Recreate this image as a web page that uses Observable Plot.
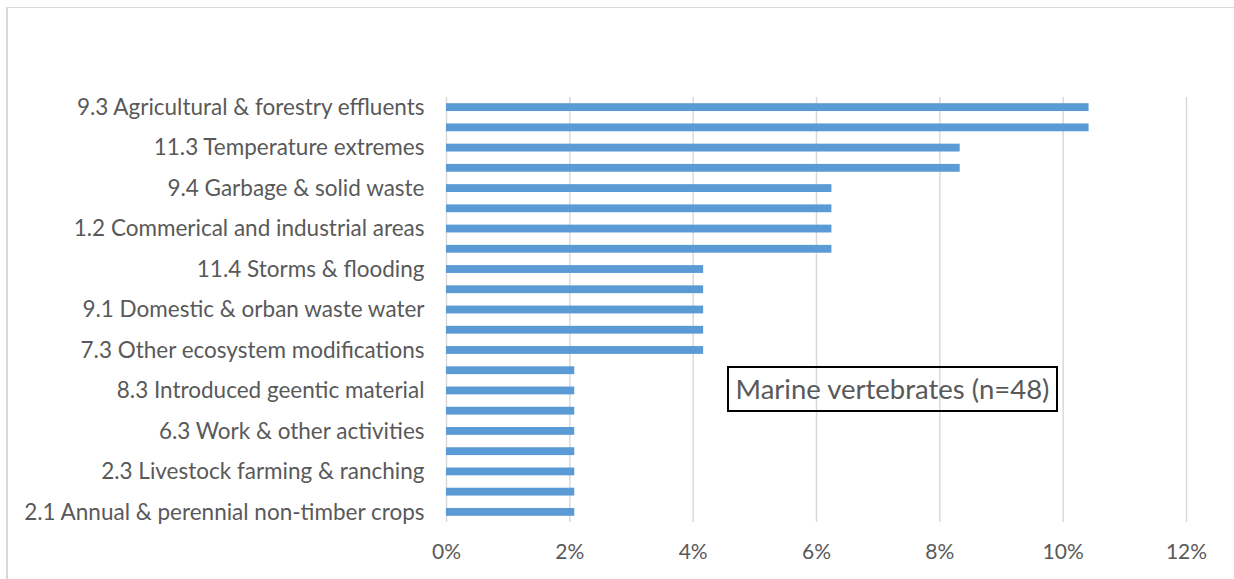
<!DOCTYPE html>
<html>
<head>
<meta charset="utf-8">
<script src="https://cdn.jsdelivr.net/npm/d3@7"></script>
<script src="https://cdn.jsdelivr.net/npm/@observablehq/plot@0.6"></script>
<style>
  html, body { margin: 0; padding: 0; background: #fff; }
  #wrap { position: relative; width: 1234px; height: 579px; overflow: hidden; }
  #frame { position: absolute; left: 6px; top: 7px; width: 1240px; height: 600px;
           border-top: 1px solid #d9d9d9; border-left: 2px solid #d9d9d9; }
  #note { position: absolute; left: 727px; top: 366px; width: 327px; height: 42px;
          border: 2px solid #000; font-family: Lato, sans-serif; font-size: 27.5px;
          color: #595959; text-align: center; line-height: 42px; white-space: nowrap; }
  #chart { position: absolute; left: 0; top: 0; }
</style>
</head>
<body>
<div id="wrap">
  <div id="frame"></div>
  <div id="chart"></div>
  <div id="note">Marine vertebrates (n=48)</div>
</div>
<script>
// Rows top to bottom; only every other row carries a visible label in the original.
const categories = [
  "9.3 Agricultural & forestry effluents", "row 2",
  "11.3 Temperature extremes", "row 4",
  "9.4 Garbage & solid waste", "row 6",
  "1.2 Commerical and industrial areas", "row 8",
  "11.4 Storms & flooding", "row 10",
  "9.1 Domestic & orban waste water", "row 12",
  "7.3 Other ecosystem modifications", "row 14",
  "8.3 Introduced geentic material", "row 16",
  "6.3 Work & other activities", "row 18",
  "2.3 Livestock farming & ranching", "row 20",
  "2.1 Annual & perennial non-timber crops"
];
const shares = [
  10.42, 10.42, 8.33, 8.33, 6.25, 6.25, 6.25, 6.25,
  4.17, 4.17, 4.17, 4.17, 4.17,
  2.08, 2.08, 2.08, 2.08, 2.08, 2.08, 2.08, 2.08
];
const labeledRows = [
  "9.3 Agricultural & forestry effluents",
  "11.3 Temperature extremes",
  "9.4 Garbage & solid waste",
  "1.2 Commerical and industrial areas",
  "11.4 Storms & flooding",
  "9.1 Domestic & orban waste water",
  "7.3 Other ecosystem modifications",
  "8.3 Introduced geentic material",
  "6.3 Work & other activities",
  "2.3 Livestock farming & ranching",
  "2.1 Annual & perennial non-timber crops"
];
const xTicks = [0, 2, 4, 6, 8, 10, 12];

const data = categories.map((c, i) => ({category: c, value: shares[i]}));

const chart = Plot.plot({
  width: 1234,
  height: 579,
  marginLeft: 446,
  marginRight: 48,
  marginTop: 97,
  marginBottom: 57,
  style: {fontFamily: "Lato, sans-serif", fontSize: "22px", color: "#595959", background: "transparent"},
  x: {domain: [0, 12]},
  y: {domain: categories, padding: 0, round: false},
  marks: [
    Plot.gridX(xTicks, {stroke: "#d9d9d9", strokeOpacity: 1, strokeWidth: 1.5}),
    Plot.barX(data, {x: "value", y: "category", fill: "#5b9bd5", insetTop: 6.2, insetBottom: 6.2}),
    Plot.axisY({ticks: labeledRows, tickSize: 0, tickPadding: 22, label: null, fill: "#595959", fontSize: 22.5}),
    Plot.axisX({ticks: xTicks, tickFormat: d => d + "%", tickSize: 0, tickPadding: 22, label: null, fill: "#595959", fontSize: 21})
  ]
});
document.getElementById("chart").appendChild(chart);
</script>
</body>
</html>
